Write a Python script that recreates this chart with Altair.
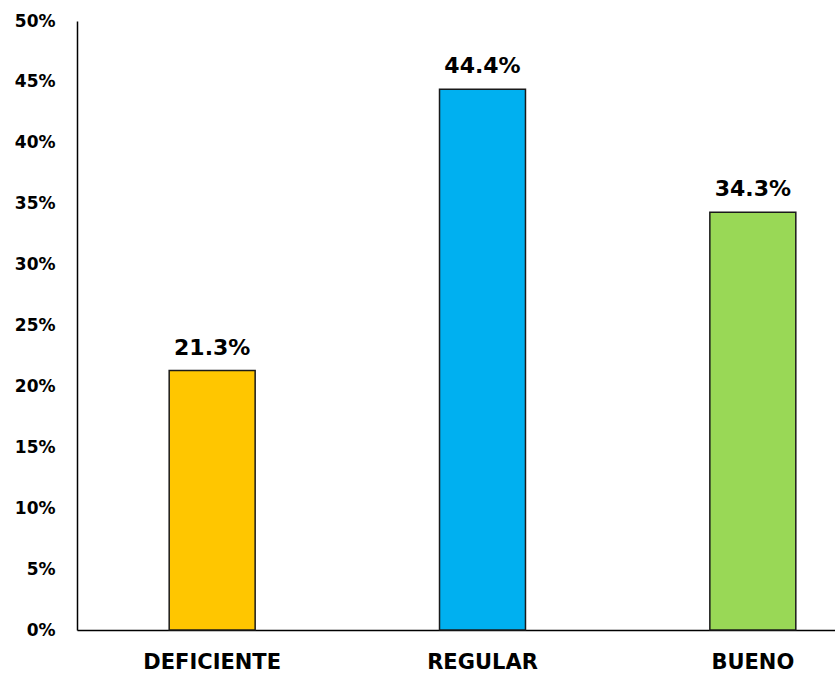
import altair as alt
import pandas as pd

categories = ["DEFICIENTE", "REGULAR", "BUENO"]
values = [0.213, 0.444, 0.343]
labels = ["21.3%", "44.4%", "34.3%"]
colors = ["#FFC600", "#00B0F0", "#99D856"]

df = pd.DataFrame({"cat": categories, "val": values, "lab": labels})

FONT = "DejaVu Sans"

x = alt.X("cat:N", sort=categories, title=None,
          scale=alt.Scale(range=[0, 811], paddingInner=0.682, paddingOuter=0.341),
          axis=alt.Axis(labelAngle=0, ticks=False, domainColor="#000000", domainWidth=1.5,
                        labelFont=FONT, labelFontSize=21, labelFontWeight="bold",
                        labelColor="#000000", labelPadding=21))
y = alt.Y("val:Q", title=None,
          scale=alt.Scale(domain=[0, 0.5]),
          axis=alt.Axis(format=".0%", values=[i / 100 for i in range(0, 51, 5)],
                        ticks=False, grid=False, domainColor="#000000", domainWidth=1.5,
                        labelFont=FONT, labelFontSize=17, labelFontWeight="bold",
                        labelColor="#000000", labelPadding=22))

bars = alt.Chart(df).mark_bar(stroke="#1a1a1a", strokeWidth=1.5).encode(
    x=x, y=y,
    color=alt.Color("cat:N", sort=categories,
                    scale=alt.Scale(domain=categories, range=colors), legend=None),
)

text = alt.Chart(df).mark_text(baseline="bottom", dy=-11, font=FONT, fontSize=22,
                               fontWeight="bold", color="#000000").encode(
    x=alt.X("cat:N", sort=categories),
    y=alt.Y("val:Q"),
    text="lab:N",
)

chart = (bars + text).properties(
    width=758, height=609,
    autosize=alt.AutoSizeParams(type="none"),
    padding={"left": 77, "top": 21, "right": 0, "bottom": 47},
).configure(background="#ffffff").configure_view(stroke=None)

chart.save("out.html", embed_options={"renderer": "svg", "actions": False})
